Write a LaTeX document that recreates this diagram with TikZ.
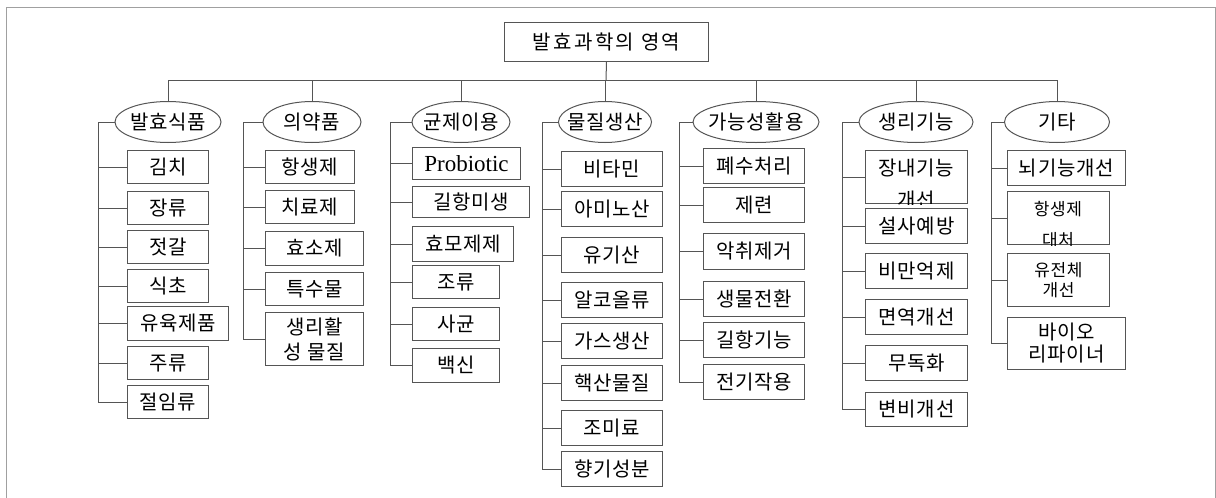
\documentclass[tikz,border=0pt]{standalone}
\usepackage{fontspec}
\usetikzlibrary{shapes.geometric,calc}
\newfontfamily\kr[LetterSpace=4]{Noto Sans CJK KR}
\newfontfamily\krroot[LetterSpace=12]{Noto Sans CJK KR}
\newfontfamily\lat{Liberation Serif}
\definecolor{lncol}{HTML}{555555}
\definecolor{frcol}{HTML}{A0A0A0}
\tikzset{
  ln/.style={draw=lncol, line width=1pt},
  box/.style={draw=lncol, line width=1pt, rectangle, inner sep=0pt, anchor=north west,
    font=\kr\fontsize{20}{24}\selectfont, align=center},
  ell/.style={draw=lncol, line width=1pt, ellipse, inner sep=0pt},
  txt/.style={inner sep=0pt, font=\kr\fontsize{20}{24}\selectfont, align=center},
}
\newcommand\bx[6]{\node[box,minimum width={(#4-#2)*1pt},minimum height={(#5-#3)*1pt}] (#1) at (#2,#3) {#6};}
\begin{document}
\begin{tikzpicture}[x=1pt,y=-1pt]
\useasboundingbox (0,0) rectangle (1216,498);
\draw[frcol, line width=1pt] (6,498) -- (6,7) -- (1215,7) -- (1215,498);

% root
\node[box, font=\krroot\fontsize{20}{24}\selectfont, minimum width=204pt, minimum height=39pt] (root) at (504,22) {발효과학의 영역};

% ellipses
\node[ell, minimum width=106pt, minimum height=41pt] (e1) at (168,122) {};
\node[ell, minimum width=98pt, minimum height=41pt] (e2) at (312,122) {};
\node[ell, minimum width=98pt, minimum height=41pt] (e3) at (461,122) {};
\node[ell, minimum width=93pt, minimum height=41pt] (e4) at (605,122) {};
\node[ell, minimum width=126pt, minimum height=41pt] (e5) at (756,122) {};
\node[ell, minimum width=114pt, minimum height=41pt] (e6) at (916,122) {};
\node[ell, minimum width=105pt, minimum height=41pt] (e7) at (1057,122) {};
\node[txt] (e1t) at (e1) {발효식품};
\node[txt] (e2t) at (e2) {의약품};
\node[txt] (e3t) at (e3) {균제이용};
\node[txt] (e4t) at (e4) {물질생산};
\node[txt] (e5t) at (e5) {가능성활용};
\node[txt] (e6t) at (e6) {생리기능};
\node[txt] (e7t) at (e7) {기타};

% bus
\coordinate (bus) at (606,80);
\draw[ln] (root.south) -- (bus);
\draw[ln] (e1.north |- bus) -- (e7.north |- bus);
\foreach \e in {e1,e2,e3,e4,e5,e6,e7} \draw[ln] (\e.north |- bus) -- (\e.north);

% group 1
\bx{k1}{127}{150}{208}{183}{김치}
\bx{k2}{127}{191}{208}{224}{장류}
\bx{k3}{127}{230}{208}{263}{젓갈}
\bx{k4}{127}{269}{208}{302}{식초}
\bx{k5}{127}{306}{228}{340}{유육제품}
\bx{k6}{127}{346}{208}{379}{주류}
\bx{k7}{127}{385}{208}{418}{절임류}
% group 2
\bx{m1}{265}{150}{354}{183}{항생제}
\bx{m2}{265}{190}{354}{223}{치료제}
\bx{m3}{265}{231}{363}{265}{효소제}
\bx{m4}{265}{272}{363}{305}{특수물}
\node[box,minimum width=98pt,minimum height=53pt,font=\kr\fontsize{20}{25}\selectfont] (m5) at (265,312) {생리활\\성 물질};
% group 3
\node[box,minimum width=108pt,minimum height=32pt,font=\lat\fontsize{23}{24}\selectfont] (b1) at (412,147) {Probiotic};
\bx{b2}{412}{186}{529}{217}{길항미생}
\bx{b3}{412}{226}{513}{261}{효모제제}
\bx{b4}{412}{265}{499}{298}{조류}
\bx{b5}{412}{307}{499}{340}{사균}
\bx{b6}{412}{348}{499}{382}{백신}
% group 4
\bx{p1}{561}{151}{662}{186}{비타민}
\bx{p2}{561}{191}{662}{226}{아미노산}
\bx{p3}{561}{237}{662}{272}{유기산}
\bx{p4}{561}{282}{662}{317}{알코올류}
\bx{p5}{561}{323}{662}{358}{가스생산}
\bx{p6}{561}{365}{662}{400}{핵산물질}
\bx{p7}{561}{410}{662}{445}{조미료}
\bx{p8}{561}{451}{662}{486}{향기성분}
% group 5
\bx{a1}{703}{148}{804}{183}{폐수처리}
\bx{a2}{703}{187}{804}{222}{제련}
\bx{a3}{703}{233}{804}{269}{악취제거}
\bx{a4}{703}{281}{804}{316}{생물전환}
\bx{a5}{703}{322}{804}{357}{길항기능}
\bx{a6}{703}{364}{804}{399}{전기작용}
% group 6
\bx{s1}{865}{150}{967}{203}{}
\bx{s2}{865}{208}{967}{243}{설사예방}
\bx{s3}{865}{253}{967}{288}{비만억제}
\bx{s4}{865}{299}{967}{334}{면역개선}
\bx{s5}{865}{345}{967}{380}{무독화}
\bx{s6}{865}{392}{967}{426}{변비개선}
\begin{scope}
\clip (s1.south west) rectangle (s1.north east);
\node[txt] (s1a) at (916,168) {장내기능};
\node[txt] (s1b) at (916,200) {개선};
\end{scope}
% group 7
\bx{t1}{1007}{150}{1125}{185}{뇌기능개선}
\bx{t2}{1007}{191}{1109}{244}{}
\node[box,minimum width=102pt,minimum height=53pt,font=\kr\fontsize{17}{20}\selectfont] (t3) at (1007,253) {유전체\\개선};
\node[box,minimum width=118pt,minimum height=52pt,font=\kr\fontsize{20}{22}\selectfont] (t4) at (1007,317) {바이오\\리파이너};
\begin{scope}
\clip (t2.south west) rectangle (t2.north east);
\node[txt, font=\kr\fontsize{17}{20}\selectfont] (t2a) at (1058,209) {항생제};
\node[txt, font=\kr\fontsize{17}{20}\selectfont] (t2b) at (1058,240) {대처};
\end{scope}

% trunks
\coordinate (g1) at (98,122);
\coordinate (g2) at (243,122);
\coordinate (g3) at (390,122);
\coordinate (g4) at (542,122);
\coordinate (g5) at (679,122);
\coordinate (g6) at (842,122);
\coordinate (g7) at (991,122);
\draw[ln] (e1.west) -- (g1) -- (g1 |- k7.west);
\draw[ln] (e2.west) -- (g2) -- (g2 |- m5.west);
\draw[ln] (e3.west) -- (g3) -- (g3 |- b6.west);
\draw[ln] (e4.west) -- (g4) -- (g4 |- p8.west);
\draw[ln] (e5.west) -- (g5) -- (g5 |- a6.west);
\draw[ln] (e6.west) -- (g6) -- (g6 |- s6.west);
\draw[ln] (e7.west) -- (g7) -- (g7 |- t4.west);
\foreach \c in {k1,k2,k3,k4,k5,k6,k7} \draw[ln] (g1 |- \c.west) -- (\c.west);
\foreach \c in {m1,m2,m3,m4,m5} \draw[ln] (g2 |- \c.west) -- (\c.west);
\foreach \c in {b1,b2,b3,b4,b5,b6} \draw[ln] (g3 |- \c.west) -- (\c.west);
\foreach \c in {p1,p2,p3,p4,p5,p6,p7,p8} \draw[ln] (g4 |- \c.west) -- (\c.west);
\foreach \c in {a1,a2,a3,a4,a5,a6} \draw[ln] (g5 |- \c.west) -- (\c.west);
\foreach \c in {s1,s2,s3,s4,s5,s6} \draw[ln] (g6 |- \c.west) -- (\c.west);
\foreach \c in {t1,t2,t3,t4} \draw[ln] (g7 |- \c.west) -- (\c.west);
\end{tikzpicture}
\end{document}
